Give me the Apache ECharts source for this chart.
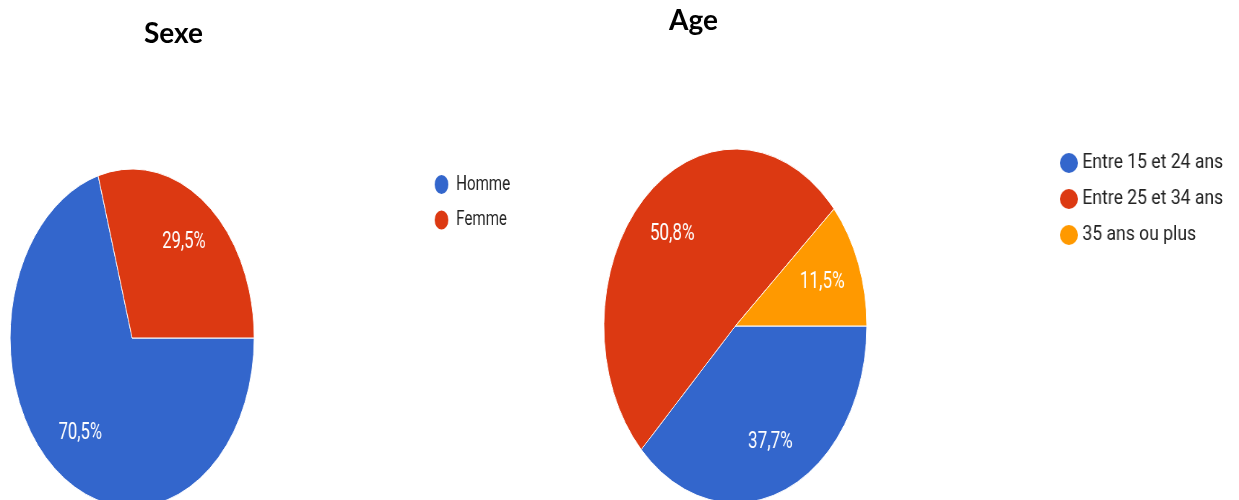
<!DOCTYPE html>
<html>
<head>
<meta charset="utf-8">
<script src="https://cdn.jsdelivr.net/npm/echarts@6/dist/echarts.min.js"></script>
<style>
  html, body { margin: 0; padding: 0; background: #fff; }
  body { width: 1239px; height: 500px; position: relative; overflow: hidden; }
  .box { position: absolute; top: 0; height: 500px; transform-origin: 0 0; }
  #titles { left: 0; width: 1239px; }
  /* les captures d'origine sont écrasées horizontalement */
  #sexe { left: 0; width: 776px; transform: scaleX(0.722); }
  #age { left: 560px; width: 660px; transform: scaleX(0.743); }
  #ageLegend { left: 1050px; width: 210px; transform: scaleX(0.9); }
</style>
</head>
<body>
<div id="titles" class="box"></div>
<div id="sexe" class="box"></div>
<div id="age" class="box"></div>
<div id="ageLegend" class="box"></div>
<script>
// données
const sexeNames = ['Homme', 'Femme']
const sexeValues = [70.5, 29.5]

const ageNames = ['Entre 15 et 24 ans', 'Entre 25 et 34 ans', '35 ans ou plus']
const ageValues = [37.7, 50.8, 11.5]

const palette = ['#3366cc', '#dc3912', '#ff9900']

const titlesChart = echarts.init(document.getElementById('titles'))
const sexeChart = echarts.init(document.getElementById('sexe'))
const ageChart = echarts.init(document.getElementById('age'))
const ageLegendChart = echarts.init(document.getElementById('ageLegend'))

const toData = (names, values) => names.map((n, i) => ({ name: n, value: values[i] }))
const pctLabel = p => p.value.toFixed(1).replace('.', ',') + '%'

// pie visible + pie transparent qui sert seulement à placer les pourcentages
function pieSeries(names, values, center, r) {
  return [
    {
      type: 'pie',
      center: center,
      radius: [0, r],
      startAngle: 0,
      clockwise: true,
      silent: true,
      avoidLabelOverlap: false,
      itemStyle: { borderColor: '#fff', borderWidth: 1, borderRadius: 0 },
      label: { show: false },
      labelLine: { show: false },
      emphasis: { disabled: true },
      data: toData(names, values)
    },
    {
      type: 'pie',
      center: center,
      radius: [Math.round(r * 0.38), r],
      startAngle: 0,
      clockwise: true,
      silent: true,
      avoidLabelOverlap: false,
      itemStyle: { color: 'transparent', borderWidth: 0 },
      label: {
        show: true,
        position: 'inside',
        formatter: pctLabel,
        color: '#fff',
        fontSize: 23,
        fontFamily: 'Roboto',
        textBorderWidth: 0
      },
      labelLine: { show: false },
      emphasis: { disabled: true },
      data: toData(names, values)
    }
  ]
}

const titlesOption = {
  backgroundColor: 'transparent',
  title: [
    { text: 'Sexe', left: 144, top: 20, padding: 0,
      textStyle: { fontFamily: 'Lato', fontWeight: 'bold', fontSize: 28, color: '#000' } },
    { text: 'Age', left: 669, top: 7, padding: 0,
      textStyle: { fontFamily: 'Lato', fontWeight: 'bold', fontSize: 28, color: '#000' } }
  ]
}

const sexeOption = {
  backgroundColor: 'transparent',
  animation: false,
  color: palette,
  legend: {
    orient: 'vertical',
    left: 595,
    top: 168,
    icon: 'circle',
    symbolKeepAspect: false,
    itemWidth: 24.5,
    itemHeight: 21,
    itemGap: 12.5,
    selectedMode: false,
    data: sexeNames,
    textStyle: { fontFamily: 'Roboto', fontSize: 21, color: '#222', lineHeight: 21, padding: [0, 0, 0, 3] }
  },
  series: pieSeries(sexeNames, sexeValues, [183, 338], 169)
}

const ageOption = {
  backgroundColor: 'transparent',
  animation: false,
  color: palette,
  series: pieSeries(ageNames, ageValues, [236, 326], 177)
}

// légende de droite (capture moins écrasée que le camembert)
const ageLegendOption = {
  backgroundColor: 'transparent',
  animation: false,
  color: palette,
  legend: {
    orient: 'vertical',
    left: 6,
    top: 148,
    icon: 'circle',
    symbolKeepAspect: false,
    itemWidth: 20,
    itemHeight: 20,
    itemGap: 16,
    selectedMode: false,
    data: ageNames,
    textStyle: { fontFamily: 'Roboto', fontSize: 19.5, color: '#222', lineHeight: 20, padding: 0 }
  },
  series: [
    {
      type: 'pie',
      radius: [0, 0],
      silent: true,
      label: { show: false },
      labelLine: { show: false },
      data: toData(ageNames, ageValues)
    }
  ]
}

titlesChart.setOption(titlesOption)
sexeChart.setOption(sexeOption)
ageChart.setOption(ageOption)
ageLegendChart.setOption(ageLegendOption)
</script>
</body>
</html>
